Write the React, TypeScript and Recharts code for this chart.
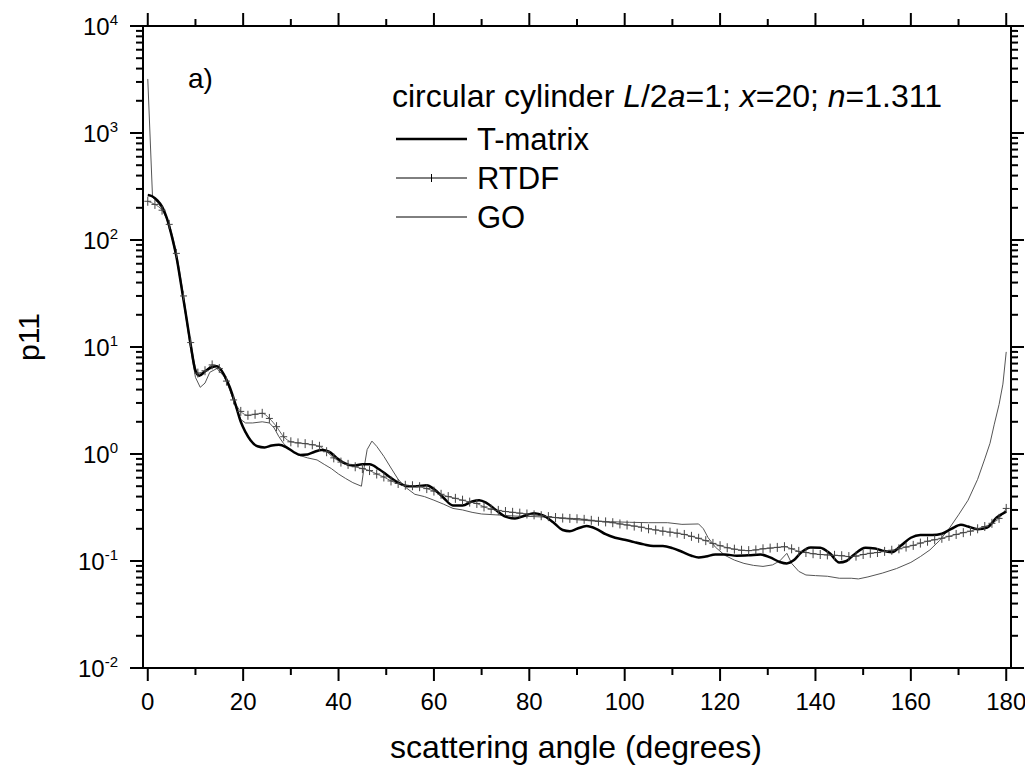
import React from 'react';
import { LineChart, Line, XAxis, YAxis } from 'recharts';

// ---- data (scattering angle in degrees, p11) ----
const tmAngles = [0, 1, 2, 3, 4, 5, 6, 7, 8, 9, 10, 10.8, 12, 13.5, 14.5, 16, 17.2, 18.5, 19.5, 20.5, 21.5, 23, 24.5, 26, 27.5, 29, 30.5, 32, 33.5, 35, 36.5, 38, 39.5, 41, 43, 45, 46.5, 48.5, 50.5, 52.5, 54.5, 56.5, 58.5, 60, 62, 64, 66, 68, 69.5, 71, 73, 75, 77, 79, 81, 83, 85, 87, 88.5, 90, 92, 94, 96, 98, 100, 102, 104, 106, 108, 110, 112, 114, 115.5, 117, 119, 121, 123.5, 126, 128.5, 130.5, 132.5, 134, 135.5, 137, 139, 141, 143, 145, 146.5, 148, 150.5, 152.5, 154, 156, 158, 160, 162, 164.5, 166.5, 168.5, 170.5, 172, 174, 176, 178, 180];
const tmValues = [263, 255, 235, 205, 160, 110, 70, 38, 20, 10.5, 6.0, 5.4, 5.9, 6.5, 6.6, 5.5, 4.2, 2.8, 2.0, 1.6, 1.35, 1.18, 1.15, 1.2, 1.22, 1.16, 1.05, 0.98, 0.99, 1.05, 1.09, 1.05, 0.93, 0.83, 0.78, 0.8, 0.8, 0.72, 0.62, 0.54, 0.5, 0.5, 0.51, 0.47, 0.39, 0.33, 0.33, 0.36, 0.37, 0.35, 0.3, 0.26, 0.25, 0.265, 0.28, 0.265, 0.23, 0.195, 0.19, 0.2, 0.212, 0.2, 0.178, 0.165, 0.158, 0.15, 0.143, 0.138, 0.138, 0.132, 0.122, 0.112, 0.108, 0.11, 0.115, 0.115, 0.112, 0.113, 0.115, 0.108, 0.098, 0.095, 0.102, 0.12, 0.134, 0.133, 0.118, 0.097, 0.1, 0.114, 0.133, 0.131, 0.125, 0.121, 0.14, 0.165, 0.175, 0.175, 0.18, 0.2, 0.218, 0.21, 0.198, 0.205, 0.255, 0.29];

const rtdfAngles = [0, 1.5, 3, 4.5, 6, 7.5, 9, 10.5, 12, 13.5, 15, 16.5, 18, 19.5, 21, 22.5, 24, 25.5, 27, 28.5, 30, 31.5, 33, 34.5, 36, 37.5, 39, 40.5, 42, 43.5, 45, 46.5, 48, 49.5, 51, 52.5, 54, 55.5, 57, 58.5, 60, 61.5, 63, 64.5, 66, 67.5, 69, 70.5, 72, 73.5, 75, 76.5, 78, 79.5, 81, 82.5, 84, 85.5, 87, 88.5, 90, 91.5, 93, 94.5, 96, 97.5, 99, 100.5, 102, 103.5, 105, 106.5, 108, 109.5, 111, 112.5, 114, 115.5, 117, 118.5, 120, 121.5, 123, 124.5, 126, 127.5, 129, 130.5, 132, 133.5, 135, 136.5, 138, 139.5, 141, 142.5, 144, 145.5, 147, 148.5, 150, 151.5, 153, 154.5, 156, 157.5, 159, 160.5, 162, 163.5, 165, 166.5, 168, 169.5, 171, 172.5, 174, 175.5, 177, 178.5, 180];
const rtdfValues = [230, 215, 190, 140, 75, 30, 11, 5.7, 6.0, 6.8, 6.3, 4.8, 3.2, 2.5, 2.3, 2.35, 2.4, 2.15, 1.8, 1.45, 1.3, 1.27, 1.25, 1.22, 1.18, 1.05, 0.92, 0.84, 0.8, 0.76, 0.73, 0.7, 0.65, 0.61, 0.56, 0.53, 0.51, 0.505, 0.495, 0.475, 0.45, 0.42, 0.4, 0.385, 0.37, 0.355, 0.345, 0.32, 0.305, 0.297, 0.29, 0.285, 0.28, 0.275, 0.27, 0.265, 0.26, 0.255, 0.252, 0.25, 0.248, 0.245, 0.24, 0.235, 0.232, 0.228, 0.222, 0.217, 0.212, 0.207, 0.2, 0.195, 0.19, 0.186, 0.182, 0.177, 0.17, 0.163, 0.155, 0.146, 0.139, 0.133, 0.129, 0.126, 0.125, 0.127, 0.13, 0.132, 0.134, 0.136, 0.13, 0.123, 0.12, 0.117, 0.115, 0.114, 0.113, 0.112, 0.11, 0.111, 0.115, 0.118, 0.12, 0.123, 0.126, 0.13, 0.135, 0.14, 0.147, 0.153, 0.158, 0.163, 0.17, 0.177, 0.184, 0.19, 0.2, 0.21, 0.225, 0.25, 0.31];

const goAngles = [0, 1, 2, 3, 4, 5, 6, 7, 8, 9, 10, 11, 12, 13, 14.5, 16, 17.2, 18.5, 19.5, 20.5, 22, 24, 25.5, 26.5, 27.5, 28.5, 30, 31.5, 33.5, 35.5, 37, 38.5, 40, 41.5, 43, 44.8, 45.3, 46, 47, 48, 49.5, 51, 52.5, 54, 56, 58, 60, 62, 64, 66, 68, 70, 73, 77, 81, 85, 89, 93, 97, 101, 105, 109, 112, 115.5, 116.5, 117.5, 119, 121, 123, 125, 127, 129, 131, 132.5, 134, 135, 136.5, 138, 140, 142.5, 145, 147.5, 149, 151, 154, 157, 160, 162, 164, 166, 168, 170, 172, 174, 175.5, 176.6, 177.5, 178.5, 179.3, 180];
const goValues = [3200, 250, 225, 195, 155, 108, 68, 37, 19, 9.5, 5.2, 4.2, 4.6, 5.8, 6.3, 5.3, 4.0, 2.7, 2.1, 1.95, 1.95, 2.0, 1.95, 1.75, 1.45, 1.25, 1.08, 0.98, 0.92, 0.88, 0.8, 0.73, 0.65, 0.59, 0.54, 0.5, 0.72, 1.1, 1.32, 1.18, 0.95, 0.74, 0.58, 0.49, 0.42, 0.4, 0.37, 0.34, 0.31, 0.3, 0.285, 0.275, 0.27, 0.263, 0.26, 0.255, 0.245, 0.237, 0.233, 0.23, 0.228, 0.228, 0.22, 0.222, 0.2, 0.165, 0.135, 0.113, 0.102, 0.095, 0.091, 0.089, 0.092, 0.1, 0.118, 0.095, 0.08, 0.074, 0.073, 0.072, 0.069, 0.069, 0.068, 0.071, 0.077, 0.085, 0.097, 0.11, 0.127, 0.155, 0.2, 0.27, 0.37, 0.58, 0.9, 1.26, 1.9, 2.9, 4.5, 9.0];

// ---- axes ----
const xMajorTicks = [0, 20, 40, 60, 80, 100, 120, 140, 160, 180];
const xMinorTicks = [10, 30, 50, 70, 90, 110, 130, 150, 170];
const xTickLabels = ['0', '20', '40', '60', '80', '100', '120', '140', '160', '180'];
const yMajorTicks = [0.01, 0.1, 1, 10, 100, 1000, 10000];
const yTickExponents = ['-2', '-1', '0', '1', '2', '3', '4'];
const yMinorMultipliers = [2, 3, 4, 5, 6, 7, 8, 9];

const legendTitle = 'circular cylinder';
const seriesNames = ['T-matrix', 'RTDF', 'GO'];

const FONT = "'Liberation Sans', Arial, Helvetica, sans-serif";

const tmData = tmAngles.map((x, i) => ({ x, y: tmValues[i] }));
const rtdfData = rtdfAngles.map((x, i) => ({ x, y: rtdfValues[i] }));
const goData = goAngles.map((x, i) => ({ x, y: goValues[i] }));

const xTicksAll = [...xMajorTicks, ...xMinorTicks].sort((a, b) => a - b);
const yMinorTicks: number[] = [];
yMajorTicks.slice(0, -1).forEach((d) => {
  yMinorMultipliers.forEach((m) => yMinorTicks.push(parseFloat((d * m).toPrecision(3))));
});
const yTicksAll = [...yMajorTicks, ...yMinorTicks].sort((a, b) => a - b);

const MAJOR = 13;
const MINOR = 7;

const BottomTick = (props: any) => {
  const { x, y, payload } = props;
  const idx = xMajorTicks.indexOf(payload.value);
  const major = idx >= 0;
  return (
    <g>
      <line x1={x} x2={x} y1={y} y2={y + (major ? MAJOR : MINOR)} stroke="#000" strokeWidth={2} />
      {major && (
        <text x={x} y={y + 42} textAnchor="middle" fontSize={24} fontFamily={FONT} fill="#000">
          {xTickLabels[idx]}
        </text>
      )}
    </g>
  );
};

const TopTick = (props: any) => {
  const { x, y, payload } = props;
  const major = xMajorTicks.indexOf(payload.value) >= 0;
  return <line x1={x} x2={x} y1={y} y2={y - (major ? MAJOR : MINOR)} stroke="#000" strokeWidth={2} />;
};

const LeftTick = (props: any) => {
  const { x, y, payload } = props;
  const idx = yMajorTicks.indexOf(payload.value);
  const major = idx >= 0;
  return (
    <g>
      <line x1={x} x2={x - (major ? MAJOR : MINOR)} y1={y} y2={y} stroke="#000" strokeWidth={2} />
      {major && (
        <text x={x - 25} y={y + 9} textAnchor="end" fontSize={24} fontFamily={FONT} fill="#000">
          10<tspan dy={-10} fontSize={15}>{yTickExponents[idx]}</tspan>
        </text>
      )}
    </g>
  );
};

const RightTick = (props: any) => {
  const { x, y, payload } = props;
  const major = yMajorTicks.indexOf(payload.value) >= 0;
  return <line x1={x} x2={x + (major ? MAJOR : MINOR)} y1={y} y2={y} stroke="#000" strokeWidth={2} />;
};

const CrossDot = (props: any) => {
  const { cx, cy, index } = props;
  if (cx == null || cy == null) return <g key={`c-${index}`} />;
  return (
    <path
      key={`c-${index}`}
      d={`M${cx - 3.5},${cy}h7M${cx},${cy - 4.5}v9`}
      stroke="#444"
      strokeWidth={1}
      fill="none"
    />
  );
};

const axisLine = { stroke: '#000', strokeWidth: 2 };

export default function App() {
  const legendX = 384;
  const lineX1 = 388;
  const lineX2 = 459;
  const textX = 469;
  const rows = [131, 170, 209];
  return (
    <div style={{ width: 1025, height: 766, position: 'relative' }}>
      <LineChart width={1025} height={766} margin={{ top: 0, right: 0, bottom: 0, left: 0 }}>
        <XAxis
          xAxisId="b"
          type="number"
          dataKey="x"
          orientation="bottom"
          domain={[-1, 181]}
          allowDataOverflow
          ticks={xTicksAll}
          interval={0}
          tickSize={0}
          tickMargin={0}
          tickLine={false}
          axisLine={axisLine}
          tick={BottomTick}
          height={106}
        />
        <XAxis
          xAxisId="t"
          type="number"
          dataKey="x"
          orientation="top"
          domain={[-1, 181]}
          allowDataOverflow
          ticks={xTicksAll}
          interval={0}
          tickSize={0}
          tickMargin={0}
          tickLine={false}
          axisLine={axisLine}
          tick={TopTick}
          height={18}
        />
        <YAxis
          yAxisId="l"
          type="number"
          scale="log"
          orientation="left"
          domain={[0.01, 10000]}
          allowDataOverflow
          ticks={yTicksAll}
          interval={0}
          tickSize={0}
          tickMargin={0}
          tickLine={false}
          axisLine={axisLine}
          tick={LeftTick}
          width={135}
        />
        <YAxis
          yAxisId="r"
          type="number"
          scale="log"
          orientation="right"
          domain={[0.01, 10000]}
          allowDataOverflow
          ticks={yTicksAll}
          interval={0}
          tickSize={0}
          tickMargin={0}
          tickLine={false}
          axisLine={axisLine}
          tick={RightTick}
          width={22}
        />
        <Line
          xAxisId="b"
          yAxisId="l"
          data={goData}
          dataKey="y"
          type="linear"
          stroke="#555"
          strokeWidth={1}
          dot={false}
          isAnimationActive={false}
          name={seriesNames[2]}
        />
        <Line
          xAxisId="b"
          yAxisId="l"
          data={rtdfData}
          dataKey="y"
          type="monotone"
          stroke="#666"
          strokeWidth={1}
          dot={CrossDot}
          isAnimationActive={false}
          name={seriesNames[1]}
        />
        <Line
          xAxisId="b"
          yAxisId="l"
          data={tmData}
          dataKey="y"
          type="monotone"
          stroke="#000"
          strokeWidth={2.5}
          dot={false}
          isAnimationActive={false}
          name={seriesNames[0]}
        />
      </LineChart>
      <svg
        width={1025}
        height={766}
        style={{ position: 'absolute', left: 0, top: 0, pointerEvents: 'none' }}
        fontFamily={FONT}
      >
        <text x={180} y={80} fontSize={28} fill="#000">a)</text>
        <text x={legendX} y={99} fontSize={32} fill="#000">
          {legendTitle} <tspan fontStyle="italic">L</tspan>/2<tspan fontStyle="italic">a</tspan>=1; <tspan fontStyle="italic">x</tspan>=20; <tspan fontStyle="italic">n</tspan>=1.311
        </text>
        {seriesNames.map((name, i) => (
          <g key={name}>
            <line x1={lineX1} x2={lineX2} y1={rows[i]} y2={rows[i]} stroke="#000" strokeWidth={i === 0 ? 2.5 : 1} />
            {i === 1 && <line x1={(lineX1 + lineX2) / 2} x2={(lineX1 + lineX2) / 2} y1={rows[i] - 4} y2={rows[i] + 4} stroke="#000" strokeWidth={1} />}
            <text x={textX} y={rows[i] + 11} fontSize={31} fill="#000">{name}</text>
          </g>
        ))}
        <text x={568} y={750} textAnchor="middle" fontSize={32} fill="#000">scattering angle (degrees)</text>
        <text x={20} y={329} transform="rotate(-90 20 329)" textAnchor="middle" dominantBaseline="central" fontSize={30} fill="#000">p11</text>
      </svg>
    </div>
  );
}
